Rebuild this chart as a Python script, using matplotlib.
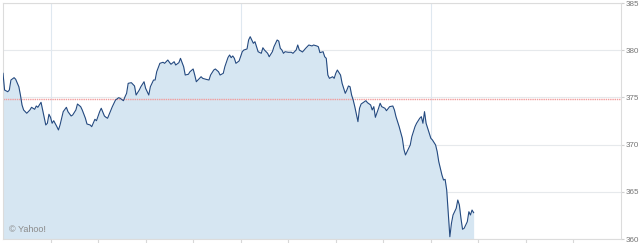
import matplotlib.pyplot as plt

# minutes after the 9:30 open, and the index level at that minute
MINUTES = [
    0, 1, 3, 4, 5, 7, 8, 10, 11, 12, 13, 15, 17, 18, 20, 21, 22, 24, 25, 27,
    28, 29, 30, 31, 32, 34, 35, 36, 38, 40, 41, 43, 44, 46, 47, 49, 50, 52, 53, 55,
    56, 58, 59, 61, 62, 64, 65, 66, 69, 71, 73, 74, 76, 77, 78, 79, 81, 83, 84, 86,
    87, 89, 90, 92, 93, 95, 96, 97, 99, 101, 102, 104, 105, 106, 108, 109, 111, 112, 114, 115,
    117, 118, 120, 121, 122, 123, 125, 126, 128, 130, 131, 133, 134, 136, 137, 139, 140, 142, 143, 144,
    145, 146, 147, 149, 151, 152, 154, 155, 156, 157, 158, 159, 160, 161, 163, 164, 165, 167, 168, 170,
    171, 173, 174, 175, 176, 177, 178, 180, 182, 183, 185, 186, 187, 189, 191, 192, 193, 195, 196, 198,
    199, 200, 202, 203, 204, 205, 206, 208, 209, 210, 211, 213, 214, 216, 217, 218, 219, 220, 221, 222,
    224, 225, 226, 228, 229, 230, 232, 233, 234, 235, 237, 238, 239, 241, 242, 244, 246, 247, 248, 250,
    252, 253, 254, 255, 257, 258, 260, 261, 263, 264, 265, 266, 267, 268, 269, 270, 271, 273, 274, 275,
    276, 277, 278, 279, 280, 281, 282, 283, 284, 286, 287, 288, 289, 290, 291, 293, 294, 295, 296, 297,
]
PRICES = [
    377.55, 375.78, 375.60, 375.78, 376.84, 377.09, 376.92, 376.13, 375.25, 374.20,
    373.67, 373.32, 373.67, 373.95, 373.74, 374.09, 373.95, 374.48, 373.67, 372.08,
    372.26, 373.21, 372.89, 372.26, 372.53, 371.90, 371.55, 372.08, 373.49, 373.95,
    373.49, 373.03, 373.14, 373.67, 374.30, 374.02, 373.67, 372.79, 372.18, 372.08,
    371.90, 372.68, 372.53, 373.49, 373.85, 373.03, 372.89, 372.79, 374.02, 374.72,
    374.97, 374.90, 374.65, 375.07, 375.43, 376.49, 376.56, 376.21, 375.25, 375.78,
    376.13, 376.66, 375.96, 375.25, 376.13, 376.84, 376.84, 377.72, 378.61, 378.72,
    378.61, 378.96, 378.72, 378.51, 378.78, 378.43, 378.68, 379.14, 378.25, 377.37,
    377.45, 377.72, 378.01, 377.37, 376.66, 376.84, 377.19, 377.02, 376.92, 376.84,
    377.37, 377.90, 378.01, 377.72, 377.37, 377.55, 378.25, 379.23, 379.49, 379.21,
    379.39, 379.14, 378.61, 378.86, 379.84, 380.02, 380.13, 381.08, 381.43, 381.08,
    380.73, 380.90, 380.37, 379.84, 379.67, 380.26, 380.02, 379.67, 379.31, 379.84,
    380.37, 381.08, 380.97, 380.20, 380.02, 379.67, 379.84, 379.78, 379.78, 379.67,
    380.02, 380.55, 380.02, 379.81, 380.20, 380.37, 380.55, 380.45, 380.55, 380.45,
    380.37, 379.74, 379.84, 379.31, 379.14, 377.37, 377.02, 377.19, 377.02, 377.55,
    377.90, 377.37, 376.49, 375.43, 375.78, 376.21, 376.13, 375.25, 374.72, 374.02,
    372.43, 373.85, 374.30, 374.54, 374.65, 374.44, 374.20, 373.67, 374.02, 372.89,
    373.85, 374.38, 374.02, 373.85, 373.59, 374.02, 374.09, 373.67, 372.96, 371.90,
    370.67, 369.50, 368.90, 369.25, 369.96, 370.84, 371.90, 372.26, 372.79, 372.96,
    372.26, 373.49, 372.26, 371.73, 371.20, 370.67, 370.49, 369.96, 369.25, 368.19,
    367.49, 366.78, 366.25, 366.32, 365.19, 362.72, 360.24, 361.66, 362.54, 363.25,
    364.13, 363.60, 362.19, 361.03, 361.13, 361.83, 362.89, 362.54, 363.07, 362.79,
]
PREV_CLOSE = 374.78
Y_TICKS = [360, 365, 370, 375, 380, 385]
X_TICKS = [30, 60, 90, 120, 150, 180, 210, 240, 270, 300, 330, 360]
X_GRID = [30, 150, 270]

fig = plt.figure(figsize=(6.4, 2.43), dpi=100)
ax = fig.add_axes([3 / 640, 4 / 243, 618 / 640, 236 / 243])

ax.fill_between(MINUTES, PRICES, 360, color="#d6e6f2", linewidth=0, zorder=1)
ax.plot(MINUTES, PRICES, color="#244a80", linewidth=0.8, zorder=3)
ax.axhline(PREV_CLOSE, color="#f29c9c", linewidth=1.0, linestyle=(0, (1, 0.6)), zorder=2)

for y in Y_TICKS:
    ax.axhline(y, color="#e6e9ec", linewidth=0.8, zorder=0.5)
for x in X_GRID:
    ax.axvline(x, color="#dfe8f0", linewidth=0.8, zorder=0.5)

ax.set_xlim(0, 390)
ax.set_ylim(360, 385)
ax.set_xticks(X_TICKS)
ax.set_xticklabels([])
ax.set_yticks(Y_TICKS)
ax.yaxis.tick_right()
ax.tick_params(axis="y", length=2.5, width=0.8, color="#d0d0d0", pad=0.8,
               labelsize=5.8, labelcolor="#757575")
ax.tick_params(axis="x", length=3, width=0.8, color="#d8d8d8")
for lbl in ax.get_yticklabels():
    lbl.set_fontfamily("Liberation Sans")

for side in ["top", "bottom", "left", "right"]:
    ax.spines[side].set_color("#dcdcdc")
    ax.spines[side].set_linewidth(0.8)

ax.text(4, 360.7, "\u00a9 Yahoo!", fontsize=6.5, color="#8a8a8a",
        family="Liberation Sans", zorder=4)

fig.savefig("out.png", dpi=100)
